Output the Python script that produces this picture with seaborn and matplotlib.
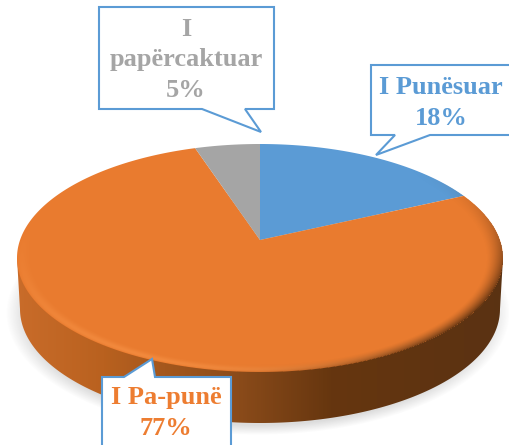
import numpy as np
import matplotlib.pyplot as plt
import seaborn as sns
from matplotlib.colors import LinearSegmentedColormap
from matplotlib.patches import Polygon
from matplotlib.path import Path

labels = ["I Punësuar", "I Pa-punë", "I\npapërcaktuar"]
values = [18, 77, 5]
colors = ["#5B9BD5", "#E97B2F", "#A5A5A5"]
text_colors = ["#5B9BD5", "#ED7D31", "#A5A5A5"]

W, H = 510, 445
squash = 0.46   # tilt of the pie
cx, cy, rx, ry = 260, 258, 243, 114
apex = (260, 240)
depth = 51

sns.set_theme(style="white")
plt.rcParams["font.family"] = ["Liberation Serif", "DejaVu Serif"]


def Y(py):
    return (H - py) / squash


fig = plt.figure(figsize=(W / 100, H / 100), dpi=100)
ax = fig.add_axes([0, 0, 1, 1])
extent = (0, W, 0, H / squash)
xx, yy = np.meshgrid(np.arange(W) + 0.5, np.arange(H) + 0.5)

# soft shadow under the disc
d = np.sqrt(((xx - 258) / 252) ** 2 + ((yy - 313) / 122) ** 2)
shadow = np.zeros((H, W, 4))
shadow[..., :3] = 0.55
shadow[..., 3] = 0.3 * np.clip((1 - d) / 0.08, 0, 1)
ax.imshow(shadow, extent=extent, aspect="auto", zorder=0, interpolation="bilinear")

# side wall
wall_cmap = LinearSegmentedColormap.from_list(
    "wall",
    [(0, "#CC6E2C"), (0.2, "#B9611F"), (0.45, "#8E4D1B"), (0.65, "#66360F"), (1, "#5A3213")],
)
wall_im = ax.imshow(xx / W, extent=extent, aspect="auto", cmap=wall_cmap, vmin=0, vmax=1, zorder=1)
t = np.linspace(np.pi, 2 * np.pi, 200)
wall_x = cx + (rx - 3) * np.cos(t)
wall_y = cy + ry * np.abs(np.sin(t)) + depth
wall_pts = np.column_stack([
    np.r_[cx - rx, wall_x, cx + rx, cx - rx],
    Y(np.r_[cy, wall_y, cy, cy]),
])
wall_im.set_clip_path(Path(wall_pts, closed=True), transform=ax.transData)

# top face: pie around the apex, cut by the ellipse
wedges, _ = ax.pie(
    values, colors=colors, startangle=90, counterclock=False,
    center=(apex[0], Y(apex[1])), radius=600, frame=False,
    wedgeprops={"linewidth": 0},
)
t = np.linspace(0, 2 * np.pi, 361)
top = Path(np.column_stack([cx + rx * np.cos(t), Y(cy + ry * np.sin(t))]), closed=True)
for w in wedges:
    w.set_clip_on(True)   # pie switches clipping off
    w.set_clip_path(top, transform=ax.transData)
    w.set_zorder(2)

# bevel on the rim
nx, ny = (xx - cx) / rx, (yy - cy) / ry
r = np.sqrt(nx ** 2 + ny ** 2)
phi = np.arctan2(ny, nx)
band = np.clip((r - 0.93) / 0.07, 0, 1)
dark = np.clip(np.cos(phi - 0.5), 0, 1) ** 3 * band ** 1.5
light = np.clip(np.cos(phi - 2.0), 0, 1) ** 1.5 * np.sin(np.pi * band ** 2) * 0.4
alpha = np.clip(dark * 0.8 + light, 0, 1)
bevel = np.zeros((H, W, 4))
mix = dark / np.maximum(dark + light, 1e-6)
bevel[..., 0] = mix * 0.30 + (1 - mix) * 1.0
bevel[..., 1] = mix * 0.16 + (1 - mix) * 0.62
bevel[..., 2] = mix * 0.05 + (1 - mix) * 0.32
bevel[..., 3] = alpha * (r <= 1)
ax.imshow(bevel, extent=extent, aspect="auto", zorder=3)

# callouts
callouts = [
    [(371, 65), (512, 65), (512, 135), (430, 135), (376, 155), (395, 135), (371, 135)],
    [(102, 377), (124, 377), (152, 359), (155, 377), (231, 377), (231, 447), (102, 447)],
    [(99, 7), (274, 7), (274, 109), (245, 109), (261, 132), (202, 109), (99, 109)],
]
text_pos = [(441, 103), (166, 413), (186, 60)]
for i in range(3):
    pts = [(px, Y(py)) for px, py in callouts[i]]
    ax.add_patch(Polygon(pts, closed=True, fc="white", ec="#5B9BD5", lw=1.5, zorder=4))
    ax.text(text_pos[i][0], Y(text_pos[i][1]), f"{labels[i]}\n{values[i]}%",
            color=text_colors[i], fontsize=19, fontweight="bold",
            ha="center", va="center", linespacing=1.42, zorder=5)

ax.set_aspect("auto")
ax.set_xlim(0, W)
ax.set_ylim(0, H / squash)
ax.axis("off")
fig.savefig("out.png", dpi=100)
